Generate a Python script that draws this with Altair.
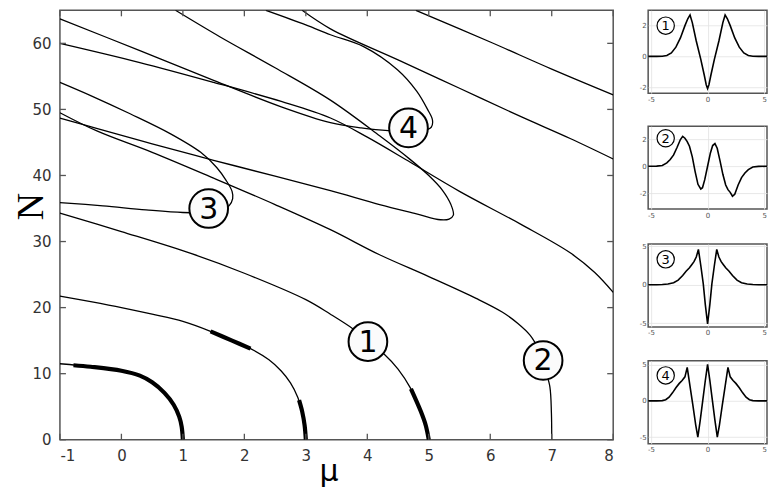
import altair as alt
import pandas as pd

# ---------------- main diagram: branches N(mu) ----------------
c0_mu = [-1.0, -0.5, 0.0, 0.3, 0.5, 0.7, 0.85, 0.94, 0.98, 1.0]
c0_N = [11.5, 11.05, 10.45, 9.7, 8.7, 7.1, 5.3, 3.5, 2.0, 0.0]

c1_mu = [-1.0, -0.5, 0.0, 0.5, 1.0, 1.45, 1.8, 2.1, 2.4, 2.6, 2.75, 2.87, 2.94, 2.98, 3.0]
c1_N = [21.75, 20.9, 20.0, 19.0, 17.9, 16.4, 15.0, 13.8, 12.1, 10.4, 8.6, 6.4, 4.3, 2.2, 0.0]

c2_mu = [-1.0, 0.0, 1.13, 2.0, 3.0, 3.4, 3.78, 4.0, 4.28, 4.5, 4.71, 4.87, 4.95, 5.0]
c2_N = [34.3, 31.5, 28.2, 25.2, 21.2, 19.0, 16.7, 15.0, 12.9, 10.7, 7.7, 4.3, 2.2, 0.0]

c3_mu = [7.0, 6.995, 6.97, 6.9, 6.86, 6.78, 6.65, 6.45, 6.2, 5.77, 5.0, 4.2, 3.4, 2.5, 1.5, 0.5, -0.39, -1.0]
c3_N = [0.0, 4.0, 8.0, 10.5, 12.0, 13.8, 15.8, 17.6, 19.3, 21.4, 24.7, 28.0, 31.8, 35.6, 39.6, 43.5, 46.7, 49.5]

c4_mu = [-1.0, -0.3, 0.4, 1.0, 1.42, 1.62, 1.75, 1.81, 1.8, 1.7, 1.55, 1.29, 0.8, 0.15, -0.5, -1.0]
c4_N = [35.9, 35.4, 34.8, 34.4, 34.4, 34.7, 35.4, 36.5, 37.6, 39.3, 41.2, 43.5, 46.3, 49.3, 52.1, 54.1]

c5_mu = [-1.0, -0.39, 0.5, 1.5, 2.5, 3.4, 4.2, 4.8, 5.19, 5.33, 5.4, 5.36, 5.22, 5.0, 4.7, 4.2, 3.4, 2.5,
         1.6, 0.88]
c5_N = [48.7, 47.1, 44.8, 42.3, 39.9, 37.7, 35.6, 34.2, 33.3, 33.4, 34.0, 35.6, 37.8, 40.0, 42.4, 46.0, 51.4,
        56.3, 61.0, 65.0]

c6_mu = [2.35, 3.0, 3.4, 3.94, 4.49, 4.8, 4.98, 5.06, 5.04, 4.9, 4.67, 4.34, 3.9, 3.4, 2.6, 1.5, 0.3, -1.0]
c6_N = [65.0, 62.8, 61.3, 59.5, 56.0, 52.8, 50.0, 48.4, 47.3, 46.8, 46.8, 46.8, 47.2, 48.0, 50.4, 54.4, 58.9, 63.7]

c7_mu = [-1.0, 0.3, 1.5, 2.6, 3.4, 4.0, 4.7, 5.5, 6.5, 7.3, 7.7, 8.0]
c7_N = [60.0, 57.1, 54.1, 51.2, 48.7, 45.8, 42.0, 37.6, 32.6, 28.3, 25.3, 22.3]

c8_mu = [2.94, 3.4, 4.5, 5.5, 6.5, 7.3, 8.0]
c8_N = [65.0, 62.2, 57.5, 53.2, 48.9, 45.6, 42.5]

c9_mu = [4.79, 6.0, 7.0, 8.0]
c9_N = [65.0, 60.2, 56.1, 52.2]

# thick (stable) pieces
t0_mu = [-0.78, -0.5, 0.0, 0.3, 0.5, 0.7, 0.85, 0.94, 0.98, 1.0]
t0_N = [11.28, 11.05, 10.45, 9.7, 8.7, 7.1, 5.3, 3.5, 2.0, 0.0]
t1_mu = [1.45, 1.8, 2.1]
t1_N = [16.4, 15.0, 13.8]
t2_mu = [2.89, 2.94, 2.98, 3.0]
t2_N = [6.0, 4.3, 2.2, 0.0]
t3_mu = [4.71, 4.87, 4.95, 5.0]
t3_N = [7.7, 4.3, 2.2, 0.0]

# circled labels
lab_mu = [4.01, 6.86, 1.42, 4.67]
lab_N = [14.85, 12.0, 35.0, 47.2]
lab_txt = ["1", "2", "3", "4"]

x_ticks = [-1, 0, 1, 2, 3, 4, 5, 6, 7, 8]
y_ticks = [0, 10, 20, 30, 40, 50, 60]

# ---------------- insets: profiles ----------------
p1_x = [-5.25, -4.5, -4.0, -3.6, -3.2, -2.8, -2.4, -2.0, -1.75, -1.55, -1.35, -1.0, -0.6, -0.3, -0.12, 0.0,
        0.12, 0.3, 0.6, 1.0, 1.35, 1.55, 1.75, 2.0, 2.4, 2.8, 3.2, 3.6, 4.0, 4.5, 5.25]
p1_y = [0.0, 0.0, 0.01, 0.06, 0.22, 0.6, 1.2, 2.0, 2.45, 2.7, 2.2, 1.0, -0.2, -1.2, -1.85, -2.1,
        -1.85, -1.2, -0.2, 1.0, 2.2, 2.7, 2.45, 2.0, 1.2, 0.6, 0.22, 0.06, 0.01, 0.0, 0.0]

p2_x = [-5.25, -4.5, -4.0, -3.6, -3.3, -3.0, -2.7, -2.4, -2.2, -2.0, -1.8, -1.6, -1.35, -1.1, -0.85, -0.6,
        -0.45, -0.25, 0.0, 0.25, 0.45, 0.65, 0.85, 1.1, 1.35, 1.6, 1.8, 2.0, 2.2, 2.4, 2.7, 3.0, 3.3, 3.6,
        4.0, 4.5, 5.25]
p2_y = [0.0, 0.01, 0.06, 0.25, 0.5, 0.85, 1.4, 2.0, 2.24, 2.1, 1.85, 1.5, 0.7, -0.4, -1.35, -1.7,
        -1.6, -1.0, 0.0, 1.0, 1.55, 1.7, 1.35, 0.4, -0.6, -1.4, -1.75, -1.95, -2.24, -2.1, -1.4, -0.85,
        -0.5, -0.25, -0.06, -0.01, 0.0]

p3_x = [-5.25, -4.5, -4.0, -3.5, -3.0, -2.6, -2.2, -1.9, -1.6, -1.4, -1.2, -1.0, -0.81, -0.6, -0.38, -0.2,
        0.0, 0.2, 0.38, 0.6, 0.81, 1.0, 1.2, 1.4, 1.6, 1.9, 2.2, 2.6, 3.0, 3.5, 4.0, 4.5, 5.25]
p3_y = [0.0, 0.0, 0.02, 0.08, 0.25, 0.6, 1.2, 1.75, 2.2, 2.6, 3.0, 3.6, 4.6, 2.5, 0.1, -2.6,
        -5.1, -2.6, 0.1, 2.5, 4.6, 3.6, 3.0, 2.6, 2.2, 1.75, 1.2, 0.6, 0.25, 0.08, 0.02, 0.0, 0.0]

p4_x = [-5.25, -4.5, -4.0, -3.7, -3.4, -3.1, -2.8, -2.5, -2.25, -2.0, -1.8, -1.55, -1.3, -1.05, -0.86, -0.65,
        -0.43, -0.2, 0.0, 0.2, 0.43, 0.65, 0.86, 1.05, 1.3, 1.55, 1.8, 2.0, 2.25, 2.5, 2.8, 3.1, 3.4, 3.7,
        4.0, 4.5, 5.25]
p4_y = [0.0, 0.0, 0.03, 0.15, 0.5, 1.1, 1.8, 2.4, 2.8, 3.3, 4.6, 2.0, -0.6, -3.3, -5.0, -2.7,
        0.0, 2.8, 5.0, 2.8, 0.0, -2.7, -5.0, -3.3, -0.6, 2.0, 4.6, 3.3, 2.8, 2.4, 1.8, 1.1, 0.5, 0.15,
        0.03, 0.0, 0.0]

inset_x_ticks = [-5, 0, 5]

# ---------------- build tables ----------------
def table(pairs):
    rows = []
    for name, (xs, ys) in pairs.items():
        for i, (a, b) in enumerate(zip(xs, ys)):
            rows.append({"curve": name, "i": i, "mu": a, "N": b})
    return pd.DataFrame(rows)

thin_df = table({"c0": (c0_mu, c0_N), "c1": (c1_mu, c1_N), "c2": (c2_mu, c2_N), "c3": (c3_mu, c3_N),
                 "c4": (c4_mu, c4_N), "c5": (c5_mu, c5_N), "c6": (c6_mu, c6_N), "c7": (c7_mu, c7_N),
                 "c8": (c8_mu, c8_N), "c9": (c9_mu, c9_N)})
thick_df = table({"t0": (t0_mu, t0_N), "t1": (t1_mu, t1_N), "t2": (t2_mu, t2_N), "t3": (t3_mu, t3_N)})
lab_df = pd.DataFrame({"mu": lab_mu, "N": lab_N, "lab": lab_txt})
xt_df = pd.DataFrame({"mu": x_ticks})
yt_df = pd.DataFrame({"N": y_ticks})

W, H = 554, 430
xs = alt.Scale(domain=[-1, 8], nice=False, zero=False)
ys = alt.Scale(domain=[0, 65], nice=False, zero=False)
minus_fix = "replace(datum.label, '\u2212', '-')"

x_axis = alt.Axis(values=x_ticks, title="μ", format="d", labelFontSize=15, labelColor="#333",
                  labelFont="DejaVu Sans", ticks=False, domain=False, grid=False, labelPadding=9,
                  labelExpr=minus_fix, titleFontSize=30, titleFont="DejaVu Sans", titleFontWeight="normal",
                  titleColor="black", titleX=269, titleY=41, titleBaseline="alphabetic", titleAlign="center")
y_axis = alt.Axis(values=y_ticks, title="N", format="d", labelFontSize=15, labelColor="#333",
                  labelFont="DejaVu Sans", ticks=False, domain=False, grid=False, labelPadding=9,
                  titleFontSize=38, titleFont="Liberation Serif", titleFontWeight="normal", titleColor="black",
                  titleAngle=270, titleX=-17, titleY=196, titleBaseline="alphabetic", titleAlign="center")

thin = alt.Chart(thin_df).mark_line(color="black", strokeWidth=1.3, interpolate="catmull-rom", clip=True).encode(
    x=alt.X("mu:Q", scale=xs, axis=x_axis), y=alt.Y("N:Q", scale=ys, axis=y_axis),
    detail="curve:N", order="i:Q")
thick = alt.Chart(thick_df).mark_line(color="black", strokeWidth=4.2, interpolate="catmull-rom", clip=True).encode(
    x=alt.X("mu:Q", scale=xs), y=alt.Y("N:Q", scale=ys), detail="curve:N", order="i:Q")
badge = alt.Chart(lab_df).mark_point(shape="circle", filled=True, fill="#fbfbfb", stroke="black",
                                     strokeWidth=2, size=1500, opacity=1).encode(
    x=alt.X("mu:Q", scale=xs), y=alt.Y("N:Q", scale=ys))
badge_txt = alt.Chart(lab_df).mark_text(fontSize=30, font="DejaVu Sans", color="black", dy=1).encode(
    x=alt.X("mu:Q", scale=xs), y=alt.Y("N:Q", scale=ys), text="lab:N")

tick_style = dict(color="#555", strokeWidth=1.3)
tb = alt.Chart(xt_df).mark_rule(**tick_style).encode(x=alt.X("mu:Q", scale=xs), y=alt.value(H), y2=alt.value(H - 6))
tt = alt.Chart(xt_df).mark_rule(**tick_style).encode(x=alt.X("mu:Q", scale=xs), y=alt.value(0), y2=alt.value(6))
tl = alt.Chart(yt_df).mark_rule(**tick_style).encode(y=alt.Y("N:Q", scale=ys), x=alt.value(0), x2=alt.value(6))
tr = alt.Chart(yt_df).mark_rule(**tick_style).encode(y=alt.Y("N:Q", scale=ys), x=alt.value(W), x2=alt.value(W - 6))

main = alt.layer(thin, thick, tb, tt, tl, tr, badge, badge_txt).properties(width=W, height=H)

# ---------------- insets ----------------
IW, IH = 119, 83
insets = []
specs = [
    (p1_x, p1_y, [-2.4, 3.0], [-2, -1, 0, 1, 2], -3.7, 2.0, "1"),
    (p2_x, p2_y, [-3.2, 3.0], [-2, 0, 2], -3.7, 2.1, "2"),
    (p3_x, p3_y, [-5.5, 5.3], [-5, 0, 5], -3.7, 3.3, "3"),
    (p4_x, p4_y, [-5.9, 5.5], [-5, 0, 5], -3.7, 3.5, "4"),
]
for px, py, ydom, yt, bx, by, bl in specs:
    d = pd.DataFrame({"x": px, "y": py})
    ixs = alt.Scale(domain=[-5.25, 5.25], nice=False, zero=False)
    iys = alt.Scale(domain=ydom, nice=False, zero=False)
    ax_common = dict(labelFontSize=7, labelColor="#555", labelFont="DejaVu Sans", grid=True, gridColor="#e2e2e2",
                     gridWidth=0.8, ticks=False, domain=False, labelPadding=2, title=None, format="d",
                     labelExpr=minus_fix)
    line = alt.Chart(d).mark_line(color="black", strokeWidth=1.6, clip=True).encode(
        x=alt.X("x:Q", scale=ixs, axis=alt.Axis(values=inset_x_ticks, **ax_common)),
        y=alt.Y("y:Q", scale=iys, axis=alt.Axis(values=yt, **ax_common)), order=alt.Order("x:Q"))
    bd = pd.DataFrame({"x": [bx], "y": [by], "lab": [bl]})
    bp = alt.Chart(bd).mark_point(shape="circle", filled=True, fill="white", stroke="black", strokeWidth=1.2,
                                  size=300, opacity=1).encode(x=alt.X("x:Q", scale=ixs), y=alt.Y("y:Q", scale=iys))
    bt = alt.Chart(bd).mark_text(fontSize=13, font="DejaVu Sans", color="black", dy=0.5).encode(
        x=alt.X("x:Q", scale=ixs), y=alt.Y("y:Q", scale=iys), text="lab:N")
    insets.append(alt.layer(line, bp, bt).properties(width=IW, height=IH))

right = alt.vconcat(*insets, spacing=22)
chart = alt.hconcat(main, right, spacing=23,
                    padding={"left": 4, "top": 0, "right": 0, "bottom": 0}).configure_view(
    stroke="#555", strokeWidth=1.5)

chart.save("out.html", embed_options={"renderer": "svg", "actions": False})
